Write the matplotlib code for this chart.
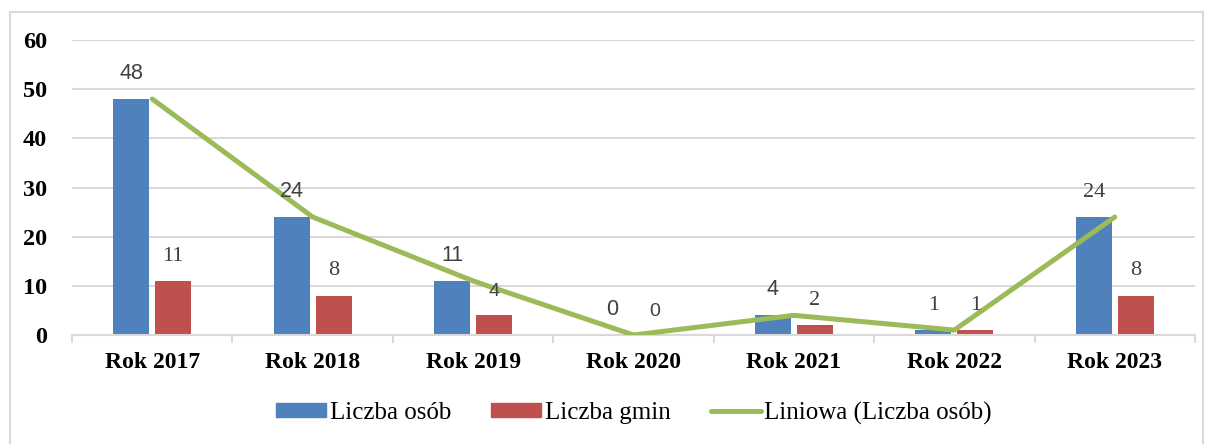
import matplotlib.pyplot as plt
from matplotlib.patches import Patch, Rectangle
from matplotlib.lines import Line2D

# data
years = ["Rok 2017", "Rok 2018", "Rok 2019", "Rok 2020", "Rok 2021", "Rok 2022", "Rok 2023"]
osoby = [48, 24, 11, 0, 4, 1, 24]
gminy = [11, 8, 4, 0, 2, 1, 8]

BLUE = "#4F81BD"
RED = "#C0504D"
GREEN = "#9BBB59"
GRID = "#D9D9D9"
SERIF = "Liberation Serif"
SANS = "Liberation Sans"

fig = plt.figure(figsize=(12.11, 4.44), dpi=100)
ax = fig.add_axes([72 / 1211, 1 - 335 / 444, 1123 / 1211, 295 / 444])

# outer frame of the chart
fig.patches.append(Rectangle((10 / 1211, -0.05), 1193 / 1211, 1.05 - 12 / 444,
                             transform=fig.transFigure, fill=False,
                             edgecolor=GRID, linewidth=1.5))

x = list(range(len(years)))
w = 0.224
off = 0.131
ax.bar([i - off for i in x], osoby, width=w, color=BLUE, zorder=2)
ax.bar([i + off for i in x], gminy, width=w, color=RED, zorder=2)
ax.plot(x, osoby, color=GREEN, linewidth=3.6, solid_capstyle="round", zorder=3)

# data labels (the source mixes fonts)
blue_fonts = [SANS, SANS, SANS, SANS, SANS, SERIF, SERIF]
red_fonts = [SERIF, SERIF, SANS, SANS, SERIF, SERIF, SERIF]
for i in x:
    fs = 15.5 if blue_fonts[i] == SANS else 16
    ax.annotate(str(osoby[i]), (i - off, osoby[i]), xytext=(0, 11), textcoords="offset points",
                ha="center", va="bottom", fontsize=fs, family=blue_fonts[i], color="#404040", zorder=4)
    fs = 14 if red_fonts[i] == SANS else 16
    ax.annotate(str(gminy[i]), (i + off, gminy[i]), xytext=(0, 11), textcoords="offset points",
                ha="center", va="bottom", fontsize=fs, family=red_fonts[i], color="#404040", zorder=4)

ax.set_xlim(-0.5, len(years) - 0.5)
ax.set_ylim(0, 60)
ax.set_yticks(range(0, 61, 10))
ax.yaxis.grid(True, color=GRID, linewidth=1.5, zorder=0)
ax.set_axisbelow(True)

ax.set_xticks(x)
ax.set_xticklabels(years, fontsize=17, family=SERIF, fontweight="bold")
ax.set_xticks([i - 0.5 for i in range(len(years) + 1)], minor=True)
ax.tick_params(axis="x", which="major", length=0, pad=12)
ax.tick_params(axis="x", which="minor", length=6, color=GRID, width=1.5)
ax.tick_params(axis="y", length=0, pad=18)
for lab in ax.get_yticklabels():
    lab.set_fontsize(17.5)
    lab.set_family(SERIF)
    lab.set_fontweight("bold")

for s in ["top", "right", "left"]:
    ax.spines[s].set_visible(False)
ax.spines["bottom"].set_color(GRID)
ax.spines["bottom"].set_linewidth(1.5)

handles = [Patch(color=BLUE), Patch(color=RED), Line2D([], [], color=GREEN, linewidth=3.6, solid_capstyle="round")]
fig.legend(handles, ["Liczba osób", "Liczba gmin", "Liniowa (Liczba osób)"],
           loc="center", bbox_to_anchor=(634 / 1211, 1 - 413 / 444), ncol=3, frameon=False,
           prop={"family": SERIF, "size": 18}, handlelength=2.0, handleheight=0.5,
           handletextpad=0.15, columnspacing=1.6)

fig.savefig("out.png", dpi=100)
